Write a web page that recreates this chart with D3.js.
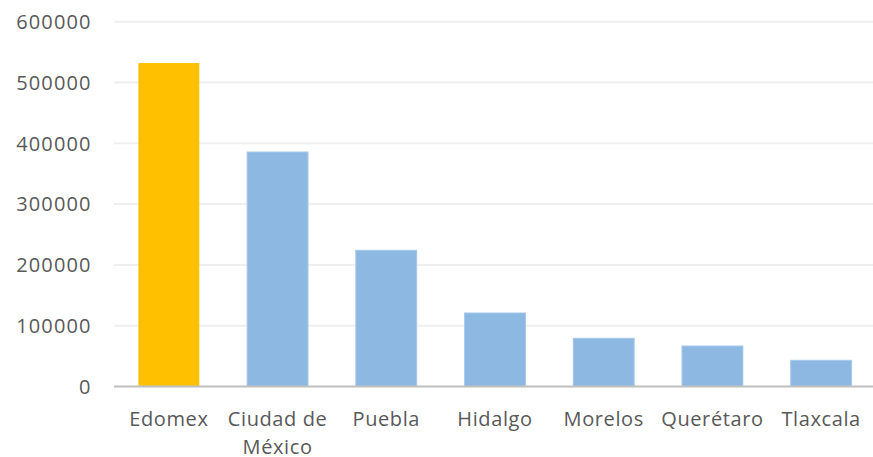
<!DOCTYPE html>
<html>
<head>
<meta charset="utf-8">
<script src="https://cdn.jsdelivr.net/npm/d3@7"></script>
<style>
html,body{margin:0;padding:0;background:#fff;}
svg{display:block;}
</style>
</head>
<body>
<svg id="chart" width="873" height="457"></svg>
<script>
const categories = [["Edomex"], ["Ciudad de", "México"], ["Puebla"], ["Hidalgo"], ["Morelos"], ["Querétaro"], ["Tlaxcala"]];
const values = [532000, 385700, 224000, 120900, 79300, 66600, 43100];
const barColors = ["#FFC000", "#8DB8E2", "#8DB8E2", "#8DB8E2", "#8DB8E2", "#8DB8E2", "#8DB8E2"];
const yTicks = [0, 100000, 200000, 300000, 400000, 500000, 600000];

const svg = d3.select("#chart");
const font = "'Open Sans', sans-serif";

const x = d3.scaleBand()
  .domain(d3.range(categories.length))
  .range([114.5, 875.5])
  .paddingInner(0.44)
  .paddingOuter(0.22);

const y = d3.scaleLinear().domain([0, 600000]).range([386.5, 21.7]);

// gridlines
svg.append("g").selectAll("line")
  .data(yTicks.filter(d => d > 0))
  .join("line")
  .attr("x1", 114).attr("x2", 873)
  .attr("y1", d => y(d)).attr("y2", d => y(d))
  .attr("stroke", "#efefef").attr("stroke-width", 2);

// y tick labels
svg.append("g").selectAll("text")
  .data(yTicks)
  .join("text")
  .attr("x", 91.5)
  .attr("y", d => y(d))
  .attr("dy", "0.36em")
  .attr("text-anchor", "end")
  .attr("font-family", font)
  .attr("font-size", 20)
  .attr("letter-spacing", 1.1)
  .attr("fill", "#595959")
  .text(d => d);

// bars
svg.append("g").selectAll("rect")
  .data(values)
  .join("rect")
  .attr("x", (d, i) => x(i))
  .attr("width", x.bandwidth())
  .attr("y", d => y(d))
  .attr("height", d => y(0) - y(d))
  .attr("fill", (d, i) => barColors[i])
  .attr("stroke", (d, i) => i === 0 ? "none" : "#a6c8ec")
  .attr("stroke-width", 1);

// baseline axis
svg.append("line")
  .attr("x1", 114).attr("x2", 873)
  .attr("y1", y(0)).attr("y2", y(0))
  .attr("stroke", "#bfbfbf").attr("stroke-width", 2);

// category labels
const lab = svg.append("g").selectAll("text")
  .data(categories)
  .join("text")
  .attr("x", (d, i) => x(i) + x.bandwidth() / 2)
  .attr("y", 425.7)
  .attr("text-anchor", "middle")
  .attr("font-family", font)
  .attr("font-size", 20)
  .attr("letter-spacing", 0.6)
  .attr("fill", "#595959");
lab.selectAll("tspan")
  .data(d => d)
  .join("tspan")
  .attr("x", function() { return d3.select(this.parentNode).attr("x"); })
  .attr("dy", (d, i) => i === 0 ? 0 : 28)
  .text(d => d);
</script>
</body>
</html>
